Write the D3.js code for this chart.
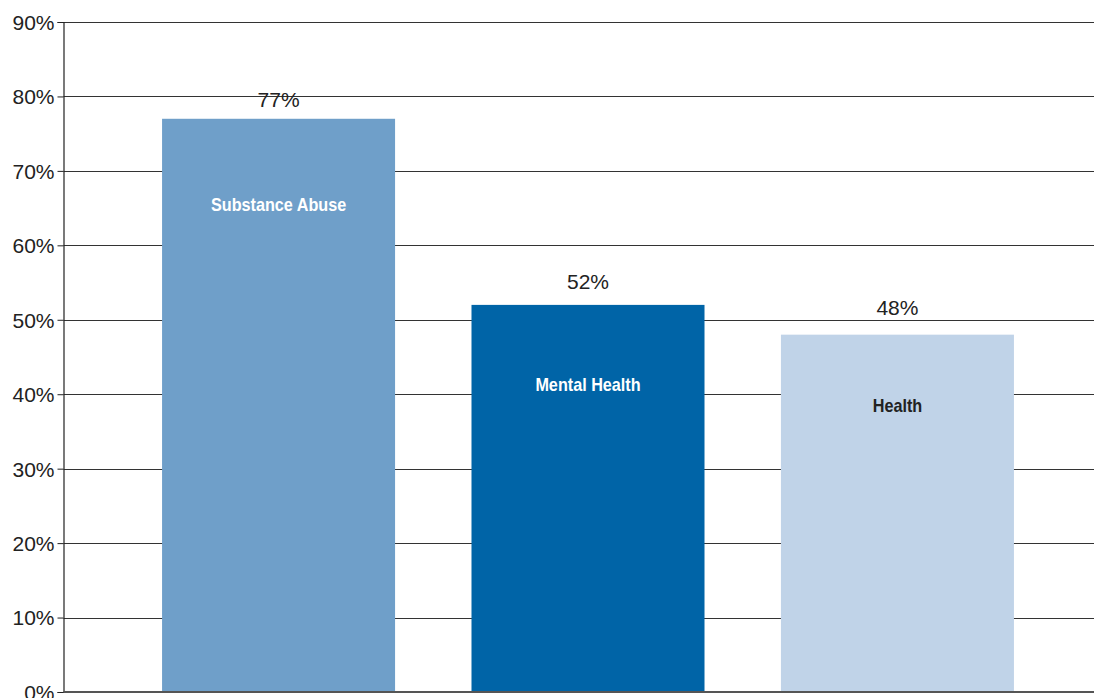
<!DOCTYPE html>
<html>
<head>
<meta charset="utf-8">
<script src="https://cdn.jsdelivr.net/npm/d3@7"></script>
<style>
  body { margin: 0; background: #fff; }
  svg { display: block; }
  text { font-family: "Liberation Sans", Arial, sans-serif; }
</style>
</head>
<body>
<svg width="1094" height="698"></svg>
<script>
// data
const categories = ["Substance Abuse", "Mental Health", "Health"];
const values = [77, 52, 48];
const barColors = ["#6f9fc9", "#0064a7", "#c0d3e8"];
const labelColors = ["#ffffff", "#ffffff", "#222222"];
const yTicks = [0, 10, 20, 30, 40, 50, 60, 70, 80, 90];

const svg = d3.select("svg");
const width = 1094;

const y = d3.scaleLinear().domain([0, 90]).range([692, 22]);
const x = d3.scaleBand()
    .domain(categories)
    .range([124, 1052])
    .paddingInner(0.247)
    .paddingOuter(0.123);

const axisX = 63.5;

// gridlines
svg.append("g")
    .selectAll("line")
    .data(yTicks.filter(d => d > 0))
    .join("line")
    .attr("x1", axisX)
    .attr("x2", width)
    .attr("y1", d => Math.round(y(d)) + 0.5)
    .attr("y2", d => Math.round(y(d)) + 0.5)
    .attr("stroke", "#333")
    .attr("stroke-width", 1.2);

// y axis
const yAxis = d3.axisLeft(y)
    .tickValues(yTicks)
    .tickFormat(d => d + "%")
    .tickSize(6)
    .tickPadding(3);

const gy = svg.append("g")
    .attr("transform", `translate(${axisX},0)`)
    .call(yAxis);
gy.select(".domain").attr("stroke", "#222").attr("stroke-width", 1.2);
gy.selectAll(".tick line").attr("stroke", "#222");
gy.selectAll(".tick text")
    .attr("fill", "#222")
    .style("font-size", "21px")
    .attr("dy", "0.35em");

// bars
svg.append("g")
    .selectAll("rect")
    .data(categories)
    .join("rect")
    .attr("x", d => x(d))
    .attr("width", x.bandwidth())
    .attr("y", (d, i) => y(values[i]))
    .attr("height", (d, i) => y(0) - y(values[i]))
    .attr("fill", (d, i) => barColors[i]);

// baseline
svg.append("line")
    .attr("x1", axisX)
    .attr("x2", width)
    .attr("y1", y(0))
    .attr("y2", y(0))
    .attr("stroke", "#555")
    .attr("stroke-width", 2);

// value labels above bars
const valueRise = [12, 16, 20];
svg.append("g")
    .selectAll("text")
    .data(categories)
    .join("text")
    .attr("x", d => x(d) + x.bandwidth() / 2)
    .attr("y", (d, i) => y(values[i]) - valueRise[i])
    .attr("text-anchor", "middle")
    .attr("fill", "#222")
    .style("font-size", "21px")
    .text((d, i) => values[i] + "%");

// category labels inside bars (squeezed to look condensed)
const labelDrop = [92, 86, 77];
svg.append("g")
    .selectAll("text")
    .data(categories)
    .join("text")
    .attr("transform", (d, i) =>
        `translate(${x(d) + x.bandwidth() / 2},${y(values[i]) + labelDrop[i]}) scale(0.9,1)`)
    .attr("text-anchor", "middle")
    .attr("fill", (d, i) => labelColors[i])
    .style("font-size", "18px")
    .style("font-weight", "bold")
    .text(d => d);
</script>
</body>
</html>
